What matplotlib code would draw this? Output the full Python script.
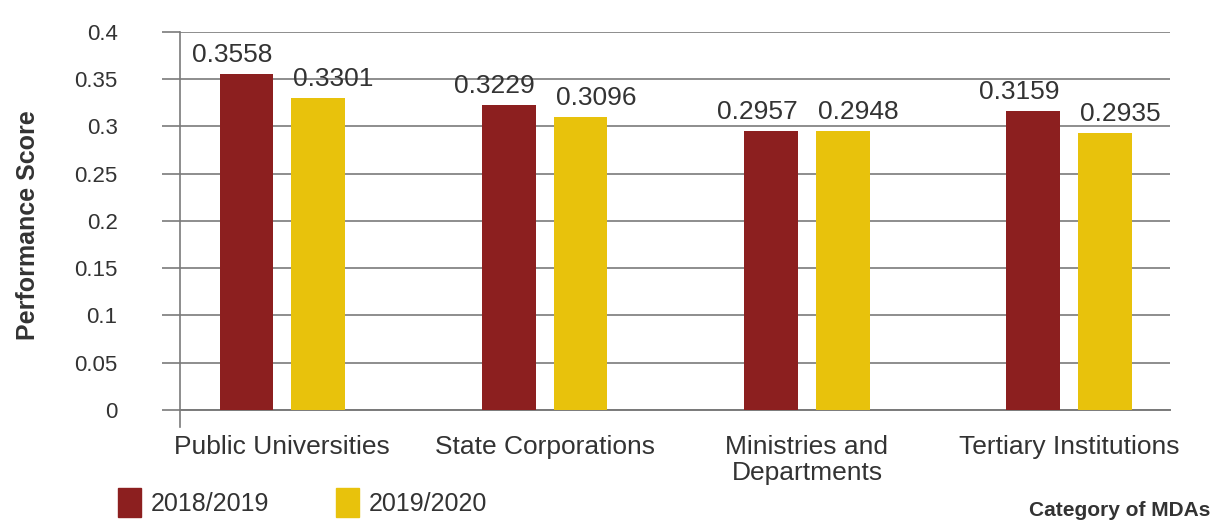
import numpy as np
import matplotlib.pyplot as plt
from matplotlib.patches import Patch

plt.rcParams['font.family'] = ['Liberation Sans', 'DejaVu Sans']

categories = ['Public Universities', 'State Corporations',
              'Ministries and\nDepartments', 'Tertiary Institutions']
years = ['2018/2019', '2019/2020']
score_1819 = [0.3558, 0.3229, 0.2957, 0.3159]
score_1920 = [0.3301, 0.3096, 0.2948, 0.2935]
yticks = [0, 0.05, 0.1, 0.15, 0.2, 0.25, 0.3, 0.35, 0.4]
ytick_labels = ['0', '0.05', '0.1', '0.15', '0.2', '0.25', '0.3', '0.35', '0.4']

red = '#8c1f1f'
yellow = '#e8c20c'
grid = '#7a7a7a'
txt = '#333333'

fig = plt.figure(figsize=(12.19, 5.24), dpi=100)
ax = fig.add_axes([0.1477, 0.2176, 0.8123, 0.7214])

x = np.arange(len(categories))
w = 0.205
off = 0.137
b1 = ax.bar(x - off, score_1819, w, color=red, zorder=3)
b2 = ax.bar(x + off, score_1920, w, color=yellow, zorder=3)

# value labels sit slightly outward from each bar pair
for bars, vals, dx in ((b1, score_1819, -10), (b2, score_1920, 11)):
    for b, v in zip(bars, vals):
        ax.annotate(f'{v:.4f}', (b.get_x() + b.get_width() / 2, v),
                    xytext=(dx, 5), textcoords='offset points',
                    ha='center', va='bottom', fontsize=19, color=txt)

ax.set_xlim(-0.39, 3.385)
ax.set_ylim(0, 0.4)
ax.set_yticks(yticks)
ax.set_yticklabels(ytick_labels)
ax.yaxis.grid(True, color=grid, linewidth=1.2, zorder=0)
ax.tick_params(axis='y', direction='out', length=13, width=1.2, color=grid,
               pad=32, labelsize=16, labelcolor=txt)
ax.set_xticks(x)
ax.set_xticklabels(categories, fontsize=19, color=txt, va='top',
                   linespacing=1.1)
ax.tick_params(axis='x', length=0, pad=18)

for s in ('top', 'right'):
    ax.spines[s].set_visible(False)
ax.spines['left'].set_color(grid)
ax.spines['left'].set_linewidth(1.2)
ax.spines['bottom'].set_color(grid)
ax.spines['bottom'].set_linewidth(1.4)
# small downward stub where the two axes cross
ax.axvline(-0.39, ymin=-0.045, ymax=0, color=grid, lw=1.2, clip_on=False)

ax.set_ylabel('Performance Score', fontsize=18, fontweight='bold', color=txt)
ax.yaxis.set_label_coords(-0.141, 0.49)

handles = [Patch(color=red), Patch(color=yellow)]
fig.legend(handles, years, loc='upper left', ncol=2,
           bbox_to_anchor=(118 / 1219, 1 - 488 / 524), frameon=False,
           fontsize=18, handlelength=0.9, handleheight=1.4, handletextpad=0.4,
           columnspacing=2.7, borderpad=0, borderaxespad=0, labelcolor=txt)

fig.text(1210 / 1219, 1 - 511 / 524, 'Category of MDAs', ha='right',
         va='center', fontsize=15, fontweight='bold', color=txt)

fig.savefig('out.png', dpi=100)
